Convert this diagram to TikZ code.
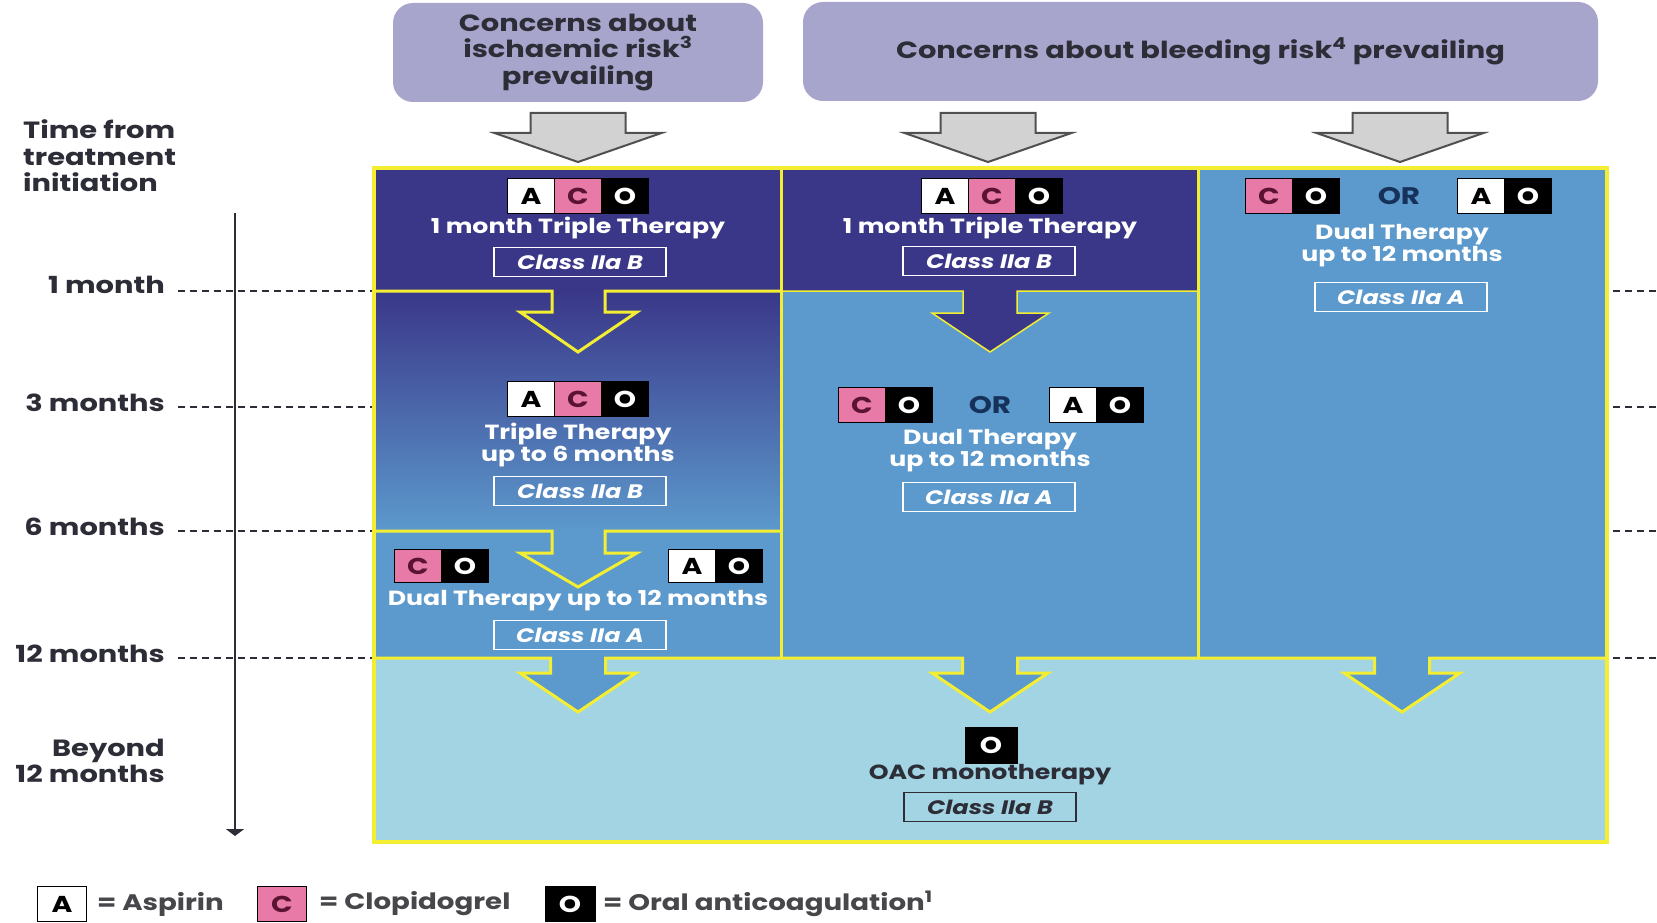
\documentclass[tikz,border=0pt]{standalone}
\usepackage{fontspec}
\setmainfont{Poppins}
\newfontfamily\wf{Poppins}[FakeStretch=1.23]
\usetikzlibrary{arrows.meta}
\definecolor{navy}{RGB}{58,55,137}
\definecolor{midblue}{RGB}{92,153,204}
\definecolor{lightblue}{RGB}{162,212,227}
\definecolor{yel}{RGB}{244,238,50}
\definecolor{lav}{RGB}{168,165,204}
\definecolor{pinkc}{RGB}{232,122,168}
\definecolor{cdark}{RGB}{90,20,50}
\definecolor{txt}{RGB}{45,45,55}
\definecolor{lgtxt}{RGB}{70,70,75}
\definecolor{ordark}{RGB}{22,50,90}
\definecolor{greyfill}{RGB}{210,210,210}
\definecolor{greyline}{RGB}{80,80,80}
\tikzset{
 hdr/.style={fill=lav, rounded corners=20pt, draw=none, text=txt, align=center,
   font=\wf\bfseries\fontsize{23.5}{26.5}\selectfont},
 tl/.style={text=txt, font=\wf\bfseries\fontsize{23.5}{26.5}\selectfont, inner sep=0},
 ther/.style={text=white, font=\wf\bfseries\fontsize{20.5}{22}\selectfont, align=center, inner sep=0},
 cls/.style={draw=white, line width=1.5pt, text=white, font=\wf\bfseries\itshape\fontsize{19.5}{19.5}\selectfont,
   minimum width=172, minimum height=29, inner sep=0},
 clsdark/.style={cls, draw=txt, text=txt},
 bx/.style={minimum width=47, minimum height=35, inner sep=0, draw=black, line width=0.8pt,
   font=\wf\bfseries\fontsize{23}{23}\selectfont},
 bA/.style={bx, fill=white, text=black},
 bC/.style={bx, fill=pinkc, text=cdark},
 bO/.style={bx, fill=black, text=white},
 ortext/.style={text=ordark, font=\wf\bfseries\fontsize{24}{24}\selectfont, inner sep=0},
 greyarr/.style={fill=greyfill, draw=greyline, line width=2pt, line join=miter},
 ydiv/.style={draw=yel, line width=3pt},
 ythin/.style={draw=yel, line width=1.5pt},
 tdash/.style={draw=txt, line width=1.5pt, dash pattern=on 7pt off 5pt},
 lg/.style={font=\wf\bfseries\fontsize{22.5}{22.5}\selectfont, text=lgtxt, inner sep=0},
 lgbox/.style={minimum width=49, minimum height=35, inner sep=0, draw=black, line width=1pt,
   font=\wf\bfseries\fontsize{23}{23}\selectfont}
}
\begin{document}
\begin{tikzpicture}[x=1pt,y=-1pt]
\useasboundingbox (0,0) rectangle (1657,923);
\fill[white] (0,0) rectangle (1657,923);

% headers
\node[hdr, minimum width=370, minimum height=99] (hdr1) at (578,52.5)
  {Concerns about\\ischaemic risk\textsuperscript{3}\\prevailing};
\node[hdr, minimum width=795, minimum height=99] (hdr2) at (1200.5,51.5)
  {Concerns about bleeding risk\textsuperscript{4} prevailing};

% grey arrows
\foreach \cx in {578,988,1400}{
  \draw[greyarr] (\cx-47.5,113) -- (\cx+47.5,113) -- (\cx+47.5,133) -- (\cx+83.5,133)
     -- (\cx,162) -- (\cx-83.5,133) -- (\cx-47.5,133) -- cycle;
}

% backgrounds
\fill[midblue] (374,168) rectangle (1607,658);
\fill[navy] (374,168) rectangle (1198,291);
\shade[top color=navy, bottom color=midblue] (374,291) rectangle (781,531);
\fill[lightblue] (374,658) rectangle (1607,842);

% arrow interiors
\fill[navy] (963,289) -- (963,313) -- (932,313) -- (990,352) -- (1049,313) -- (1017,313) -- (1017,289) -- cycle;
\foreach \cx in {578,990,1402}{
  \fill[midblue] (\cx-27.5,656) -- (\cx-27.5,673) -- (\cx-58,673) -- (\cx,712) -- (\cx+58,673)
     -- (\cx+27.5,673) -- (\cx+27.5,656) -- cycle;
}

% yellow dividers
\draw[ydiv] (374,291) -- (552,291) -- (552,312) -- (520,312) -- (578,352) -- (637,312)
  -- (605,312) -- (605,291) -- (781,291);
\draw[ythin] (781,291) -- (963,291) -- (963,313) -- (932,313) -- (990,352) -- (1049,313)
  -- (1017,313) -- (1017,291) -- (1198,291);
\draw[ydiv] (374,531) -- (552,531) -- (552,553) -- (520,553) -- (578,587) -- (637,553)
  -- (605,553) -- (605,531) -- (781,531);
\draw[ydiv] (374,658)
  -- (550.5,658) -- (550.5,673) -- (520,673) -- (578,712) -- (636,673) -- (605.5,673) -- (605.5,658)
  -- (962.5,658) -- (962.5,673) -- (932,673) -- (990,712) -- (1048,673) -- (1017.5,673) -- (1017.5,658)
  -- (1374.5,658) -- (1374.5,673) -- (1344,673) -- (1402,712) -- (1460,673) -- (1429.5,673) -- (1429.5,658)
  -- (1607,658);
\draw[ydiv] (781,168) -- (781,658);
\draw[ydiv] (1198,168) -- (1198,658);
\draw[draw=yel, line width=4pt] (374,168) rectangle (1607,842);

% column 1
\node[bA] (c1a) at (531,196) {A};
\node[bC] (c1c) at (578,196) {C};
\node[bO] (c1o) at (625,196) {O};
\node[ther] (c1t) at (578,228) {1 month Triple Therapy};
\node[cls] (c1k) at (580,262) {Class IIa B};

\node[bA] (c1a2) at (531,399) {A};
\node[bC] (c1c2) at (578,399) {C};
\node[bO] (c1o2) at (625,399) {O};
\node[ther] (c1t2) at (578,445) {Triple Therapy\\up to 6 months};
\node[cls] (c1k2) at (580,491) {Class IIa B};

\node[bC, minimum height=33] (c1c3) at (418,566) {C};
\node[bO, minimum height=33] (c1o3) at (465,566) {O};
\node[bA, minimum height=33] (c1a4) at (692,566) {A};
\node[bO, minimum height=33] (c1o4) at (739,566) {O};
\node[ther] (c1t3) at (578,601) {Dual Therapy up to 12 months};
\node[cls] (c1k3) at (580,635) {Class IIa A};

% column 2
\node[bA] (c2a) at (945,196) {A};
\node[bC] (c2c) at (992,196) {C};
\node[bO] (c2o) at (1039,196) {O};
\node[ther] (c2t) at (990,228) {1 month Triple Therapy};
\node[cls] (c2k) at (989,261) {Class IIa B};

\node[bC] (c2c2) at (862,405) {C};
\node[bO] (c2o2) at (909,405) {O};
\node[ortext] (c2or) at (990,405) {OR};
\node[bA] (c2a3) at (1073,405) {A};
\node[bO] (c2o3) at (1120,405) {O};
\node[ther] (c2t2) at (990,451) {Dual Therapy\\up to 12 months};
\node[cls] (c2k2) at (989,497) {Class IIa A};

% column 3
\node[bC] (c3c) at (1269,196) {C};
\node[bO] (c3o) at (1316,196) {O};
\node[ortext] (c3or) at (1399,196) {OR};
\node[bA] (c3a) at (1481,196) {A};
\node[bO] (c3o2) at (1528,196) {O};
\node[ther] (c3t) at (1402,246) {Dual Therapy\\up to 12 months};
\node[cls] (c3k) at (1401,297) {Class IIa A};

% bottom band
\node[bO, minimum width=52, minimum height=36] (bo) at (991,745) {O};
\node[ther, text=txt] (bt) at (990,775) {OAC monotherapy};
\node[clsdark] (bk) at (990,807) {Class IIa B};

% timeline
\node[tl, align=left, anchor=west] (tlh) at (23,156) {Time from\\treatment\\initiation};
\node[tl, anchor=east] (l1) at (165,285) {1 month};
\node[tl, anchor=east] (l3) at (165,403) {3 months};
\node[tl, anchor=east] (l6) at (165,527) {6 months};
\node[tl, anchor=east] (l12) at (165,654) {12 months};
\node[tl, align=right, anchor=east] (lb) at (165,761) {Beyond\\12 months};

\coordinate (ttop) at (235,213);
\coordinate (tbot) at (235,836);
\draw[txt, line width=1.5pt, -{Triangle[width=18pt,length=7pt]}] (ttop) -- (tbot);
\foreach \yy in {291,407,531,658}{
  \draw[tdash] (178,\yy) -- (372,\yy);
  \draw[tdash] (1613,\yy) -- (1657,\yy);
}

% legend
\node[lgbox, fill=white, text=black] (lA) at (62,904) {A};
\node[lg, anchor=west] (lAt) at (97,904) {= Aspirin};
\node[lgbox, fill=pinkc, text=cdark] (lC) at (282,904) {C};
\node[lg, anchor=west] (lCt) at (319,904) {= Clopidogrel};
\node[lgbox, fill=black, text=white, minimum width=50] (lO) at (570,904) {O};
\node[lg, anchor=west] (lOt) at (603,904) {= Oral anticoagulation\textsuperscript{1}};
\end{tikzpicture}
\end{document}
